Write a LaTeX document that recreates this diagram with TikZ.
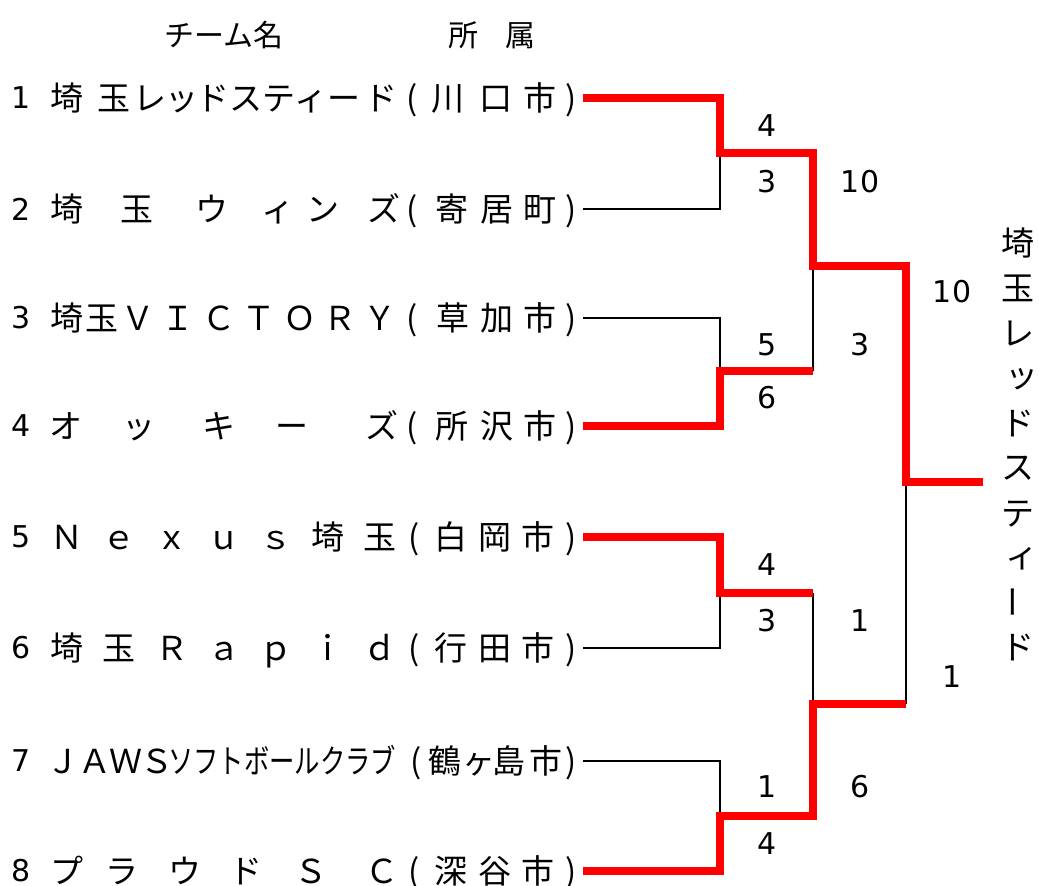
\documentclass[tikz,border=0pt]{standalone}
\usepackage{fontspec}
\usepackage{graphicx}
\newfontfamily\jpfont{Noto Sans CJK JP}
\newfontfamily\numfont{DejaVu Sans}
\tikzset{
  jp/.style={font=\jpfont\fontsize{33}{40}\selectfont, inner sep=0pt, anchor=base},
  hdr/.style={font=\jpfont\fontsize{30}{36}\selectfont, inner sep=0pt, anchor=base},
  num/.style={font=\numfont\fontsize{30}{36}\selectfont, inner sep=0pt, anchor=center},
  win/.style={draw=red, line width=7.5pt},
  lose/.style={draw=black, line width=2.5pt},
}
\newcommand\teamrow[5]{%
  \node[num] (no#1) at (21,#2) {#3};
  \foreach \xx/\cc [count=\k] in {#4} \node[jp] (nm#1-\k) at (\xx,#2+12) {\cc};
  \foreach \xx/\cc [count=\k] in {#5} \node[jp] (ct#1-\k) at (\xx,#2+12) {\cc};
}
\begin{document}
\begin{tikzpicture}[x=1pt,y=-1pt]
\useasboundingbox (0,0) rectangle (1039,886);
% headers
\node[hdr] (h1) at (224,46) {チーム名};
\node[hdr] (h2) at (463,46) {所};
\node[hdr] (h3) at (520,46) {属};
% team rows
\teamrow{1}{98}{1}{67/埼,114/玉,150/レ,182/ッ,213/ド,246/ス,279/テ,311/ィ,344/ー,381/ド}{412/(,448/川,496/口,540/市,571/)}
\teamrow{2}{209}{2}{67/埼,137/玉,212/ウ,278/ィ,323/ン,384/ズ}{412/(,452/寄,497/居,540/町,571/)}
\teamrow{3}{318}{3}{67/埼,102/玉,138/Ｖ,178/Ｉ,219/Ｃ,259/Ｔ,300/Ｏ,340/Ｒ,380/Ｙ}{412/(,453/草,497/加,540/市,571/)}
\teamrow{4}{426}{4}{66/オ,139/ッ,219/キ,292/ー,382/ズ}{412/(,452/所,497/沢,540/市,571/)}
\teamrow{5}{537}{5}{67/Ｎ,119/ｅ,172/ｘ,224/ｕ,276/ｓ,328/埼,380/玉}{414/(,451/白,495/岡,538/市,571/)}
\teamrow{6}{648}{6}{67/埼,119/玉,172/Ｒ,224/ａ,276/ｐ,328/ｉ,380/ｄ}{414/(,451/行,495/田,538/市,571/)}
\teamrow{7}{761}{7}{63/Ｊ,95/Ａ,126/Ｗ,157/Ｓ}{416/(,445/鶴,479/ヶ,509/島,546/市,571/)}
\node[jp] (nm7-k) at (282,773) {\resizebox{228pt}{\height}{ソフトボールクラブ}};
\teamrow{8}{871}{8}{67/プ,122/ラ,185/ウ,246/ド,311/Ｓ,382/Ｃ}{414/(,451/深,495/谷,538/市,571/)}
% bracket coordinates
\coordinate (t1) at (583,98);
\coordinate (t2) at (583,209);
\coordinate (t3) at (583,318);
\coordinate (t4) at (583,426);
\coordinate (t5) at (583,537);
\coordinate (t6) at (583,648);
\coordinate (t7) at (583,761);
\coordinate (t8) at (583,871);
\coordinate (q1) at (720,153);
\coordinate (q2) at (720,371);
\coordinate (q3) at (720,593);
\coordinate (q4) at (720,816);
\coordinate (p2) at (813,371);
\coordinate (p3) at (813,593);
\coordinate (s1) at (813,266);
\coordinate (s2) at (813,704);
\coordinate (g2) at (906,704);
\coordinate (f) at (906,482);
\coordinate (w) at (983,482);
% losing lines
\draw[lose] (t2) -| (q1);
\draw[lose] (t3) -| (q2);
\draw[lose] (t6) -| (q3);
\draw[lose] (t7) -| (q4);
\draw[lose] (p2) -- (s1);
\draw[lose] (p3) -- (s2);
\draw[lose] (g2) -- (f);
% winning lines
\draw[win] (t1) -| (q1) -| (s1) -| (f) -- (w);
\draw[win] (t4) -| (q2) -- (p2);
\draw[win] (t5) -| (q3) -- (p3);
\draw[win] (t8) -| (q4) -| (s2) -- (g2);
% scores
\node[num] (sa1) at (767,126) {4};
\node[num] (sa2) at (767,182) {3};
\node[num] (sb1) at (767,345) {5};
\node[num] (sb2) at (767,398) {6};
\node[num] (sc1) at (767,565) {4};
\node[num] (sc2) at (767,621) {3};
\node[num] (sd1) at (767,787) {1};
\node[num] (sd2) at (767,844) {4};
\node[num] (se1) at (860,182) {10};
\node[num] (se2) at (860,345) {3};
\node[num] (sf1) at (860,621) {1};
\node[num] (sf2) at (860,787) {6};
\node[num] (sg1) at (952,292) {10};
\node[num] (sg2) at (952,677) {1};
% champion (vertical)
\node[jp] (v1) at (1018,255) {埼};
\node[jp] (v2) at (1018,300) {玉};
\node[jp] (v3) at (1018,345) {レ};
\node[jp] (v4) at (1022,387) {ッ};
\node[jp] (v5) at (1018,435) {ド};
\node[jp] (v6) at (1018,479) {ス};
\node[jp] (v7) at (1018,525) {テ};
\node[jp] (v8) at (1022,567) {ィ};
\node[jp, anchor=center, rotate=90] (v9) at (1018,602) {ー};
\node[jp] (v10) at (1018,659) {ド};
\end{tikzpicture}
\end{document}
